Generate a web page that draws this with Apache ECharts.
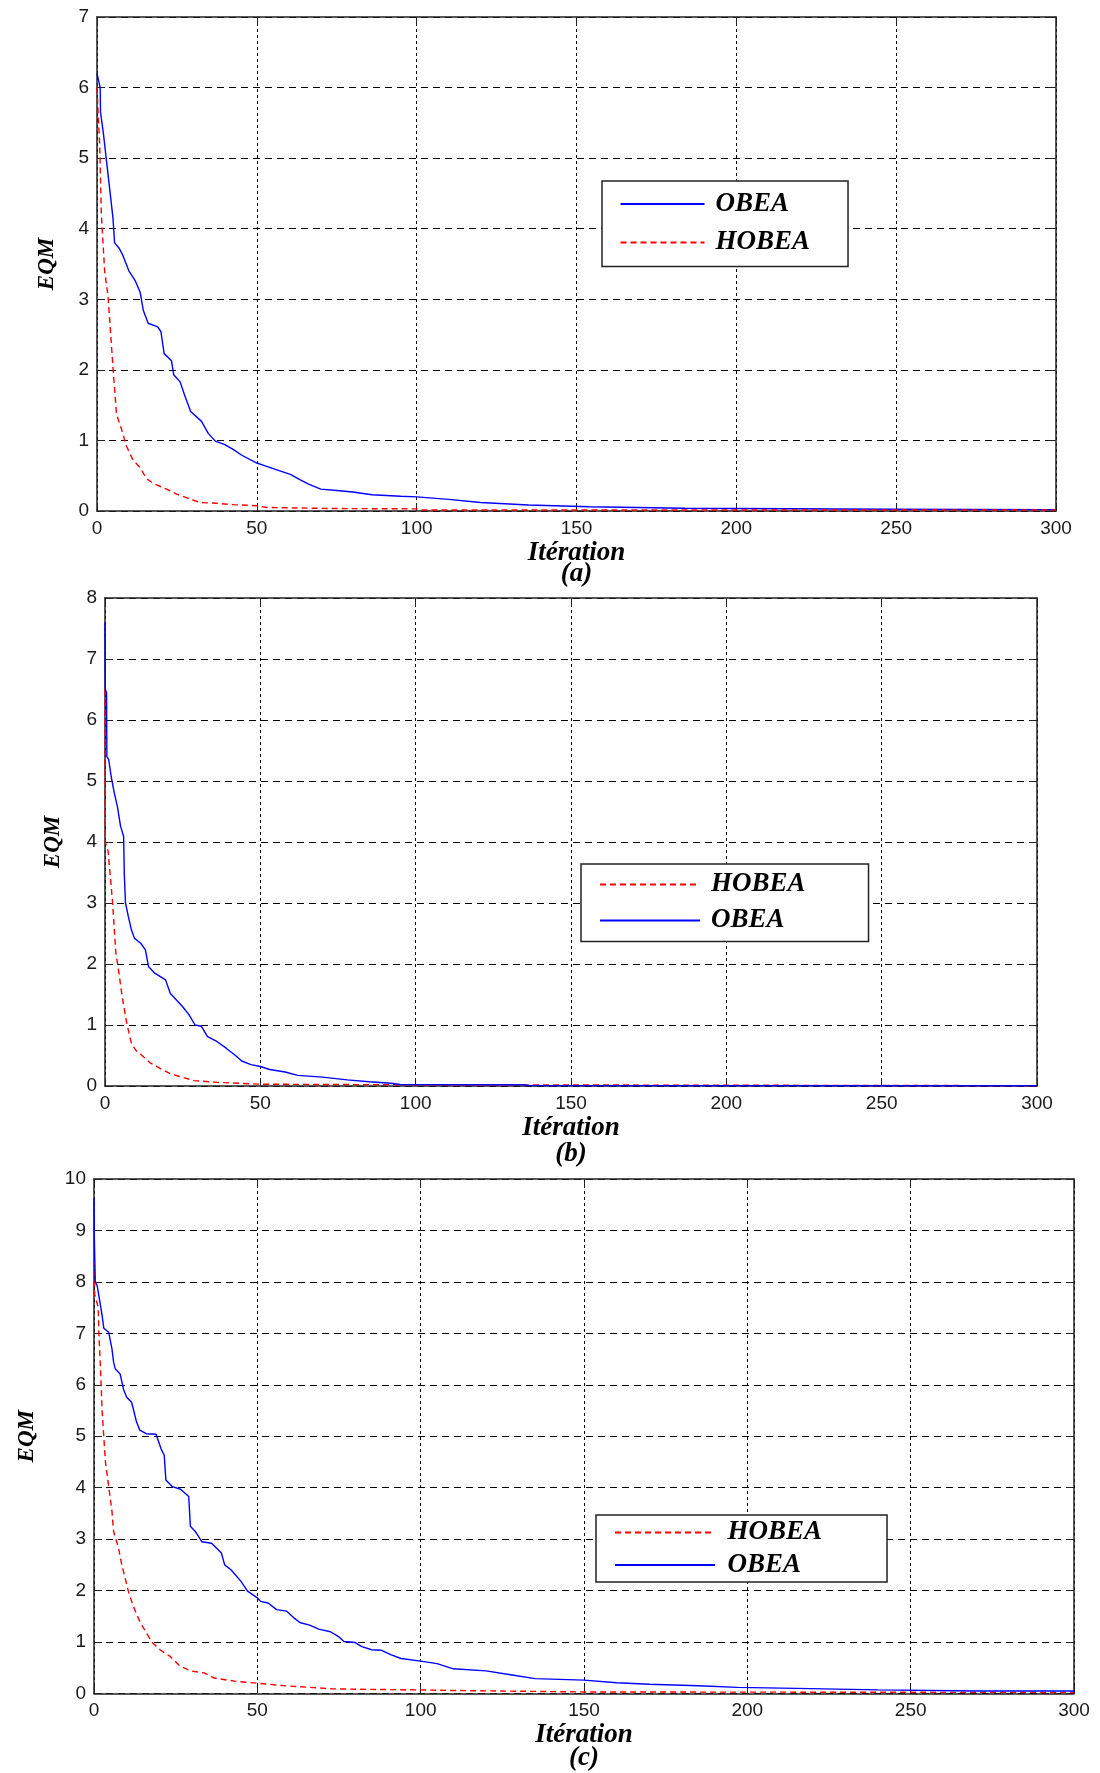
<!DOCTYPE html>
<html>
<head>
<meta charset="utf-8">
<script src="https://cdn.jsdelivr.net/npm/echarts@6/dist/echarts.min.js"></script>
<style>
html,body{margin:0;padding:0;background:#fff;}
#c{width:1100px;height:1773px;}
</style>
</head>
<body>
<div id="c"></div>
<script>
// ---------- data ----------
const xTicks = [0, 50, 100, 150, 200, 250, 300];
const panelLabels = ['(a)', '(b)', '(c)'];
const yMaxes = [7, 8, 10];

// Panel (a)
const obeaA_x = [0, 1, 1.1, 2, 3, 4, 5, 5.5, 7, 8, 10, 12, 13.5, 14.5, 16, 19, 20, 21, 23.3, 24, 26, 27.5, 29.3, 32.7, 34.8, 37, 40, 42.7, 45.3, 50, 52.6, 55.8, 60.5, 63.6, 66.2, 70, 75, 80, 86, 95, 100, 110, 120, 135, 154, 184, 248, 300];
const obeaA_y = [6.2, 6.0, 5.65, 5.35, 4.95, 4.55, 4.15, 3.8, 3.72, 3.63, 3.4, 3.26, 3.1, 2.84, 2.66, 2.61, 2.54, 2.23, 2.13, 1.93, 1.83, 1.63, 1.41, 1.27, 1.1, 0.99, 0.94, 0.87, 0.79, 0.68, 0.64, 0.59, 0.52, 0.44, 0.38, 0.31, 0.29, 0.27, 0.23, 0.21, 0.2, 0.165, 0.12, 0.085, 0.06, 0.04, 0.025, 0.02];
const hobeaA_x = [0, 0.5, 0.84, 1.36, 2.4, 3.45, 4, 5, 6.1, 7.6, 9.2, 11.3, 13.4, 15.5, 17.6, 21.8, 24.9, 28, 32.2, 37.4, 42.7, 50, 53, 74, 100, 101, 300];
const hobeaA_y = [6.0, 5.5, 5.2, 4.2, 3.4, 3.04, 2.69, 2.03, 1.37, 1.17, 0.92, 0.72, 0.62, 0.46, 0.39, 0.31, 0.24, 0.19, 0.12, 0.11, 0.09, 0.075, 0.05, 0.035, 0.03, 0.015, 0.015];

// Panel (b)
const obeaB_x = [0, 0.1, 0.5, 0.6, 1.2, 2, 3, 4, 5, 6, 6.2, 6.6, 7.5, 8.5, 9.5, 11.5, 13, 14, 16, 19.5, 21, 23, 25, 27, 29, 31, 33, 36, 39, 42, 44, 47, 50, 53, 58, 62, 70, 78, 85, 92, 95, 135, 136, 300];
const obeaB_y = [7.6, 6.5, 6.45, 5.4, 5.35, 5.07, 4.8, 4.58, 4.26, 4.09, 3.49, 3.0, 2.78, 2.56, 2.42, 2.34, 2.23, 1.96, 1.85, 1.74, 1.52, 1.41, 1.3, 1.17, 1.0, 0.98, 0.81, 0.73, 0.62, 0.5, 0.41, 0.35, 0.32, 0.27, 0.23, 0.175, 0.146, 0.1, 0.07, 0.045, 0.025, 0.02, 0.008, 0.005];
const hobeaB_x = [0, 0.1, 0.5, 1, 2, 2.5, 3, 3.5, 4.5, 5.5, 7, 8.5, 10, 11.3, 14.5, 17.7, 21, 24.8, 28.6, 36, 50, 70, 100, 135, 300];
const hobeaB_y = [6.5, 4.0, 4.0, 3.85, 3.27, 2.97, 2.56, 2.18, 1.85, 1.47, 1.03, 0.7, 0.58, 0.53, 0.38, 0.29, 0.2, 0.146, 0.088, 0.06, 0.03, 0.025, 0.02, 0.018, 0.005];

// Panel (c)
const obeaC_x = [0, 0.1, 0.3, 0.4, 1, 1.5, 2.5, 3, 4.5, 5.5, 6, 6.5, 8, 9, 10, 11.5, 12, 13, 14, 16, 19, 20.5, 21.5, 22, 24, 26.5, 29, 29.5, 31, 33, 36, 39, 40, 42, 45, 47, 50, 51, 53.3, 55.9, 59, 61, 63, 66, 68.8, 72.4, 75, 76.5, 80, 82, 85, 88, 91, 94, 100, 105, 110, 120, 128, 135, 150, 160, 170, 185, 197, 215, 240, 270, 300];
const obeaC_y = [9.63, 8.86, 8.86, 8.0, 7.92, 7.73, 7.34, 7.1, 7.02, 6.7, 6.44, 6.31, 6.21, 5.92, 5.76, 5.66, 5.54, 5.28, 5.12, 5.05, 5.04, 4.76, 4.63, 4.15, 4.02, 3.97, 3.83, 3.25, 3.15, 2.95, 2.92, 2.73, 2.5, 2.4, 2.18, 1.99, 1.86, 1.79, 1.76, 1.63, 1.6, 1.48, 1.38, 1.33, 1.25, 1.2, 1.1, 1.01, 0.99, 0.91, 0.85, 0.84, 0.75, 0.68, 0.63, 0.58, 0.48, 0.44, 0.36, 0.29, 0.26, 0.21, 0.18, 0.15, 0.12, 0.1, 0.07, 0.05, 0.05];
const hobeaC_x = [0, 0.2, 1.3, 1.5, 2, 2.5, 3, 3.5, 4.5, 5.5, 6, 7.5, 8.5, 9.5, 10.5, 12, 14, 15, 17.7, 20.2, 23.3, 26.4, 29.5, 33.7, 36.8, 43, 50, 58.5, 73, 84, 100, 108, 150, 300];
const hobeaC_y = [8.8, 7.76, 7.5, 6.98, 6.31, 5.47, 4.99, 4.5, 4.02, 3.54, 3.15, 2.83, 2.5, 2.25, 1.99, 1.7, 1.4, 1.29, 1.0, 0.85, 0.72, 0.53, 0.44, 0.4, 0.3, 0.24, 0.2, 0.15, 0.09, 0.08, 0.07, 0.06, 0.03, 0.02];

// ---------- layout / style ----------
const grids = [
  {left: 97, top: 17, width: 959, height: 494},
  {left: 105, top: 598, width: 932, height: 488},
  {left: 94, top: 1179, width: 980, height: 516}
];
const xNameGap = [31.5, 29, 30.5];
const xNameLH = [21, 26, 23];
const yNameGap = [38.5, 40.5, 55.5];

const AX = '#222';
const TICKFONT = {fontFamily: 'Liberation Sans, Arial, sans-serif', fontSize: 19, color: '#1a1a1a'};
const SERIF = {fontFamily: 'Liberation Serif, Times New Roman, serif', fontStyle: 'italic', fontWeight: 'bold', color: '#000'};

function zip(xs, ys) { return xs.map((x, i) => [x, ys[i]]); }

const xAxis = [], yAxis = [];
grids.forEach((g, gi) => {
  xAxis.push({
    type: 'value', gridIndex: gi, position: 'bottom', min: 0, max: 300, interval: 50,
    axisLine: {show: true, onZero: false, lineStyle: {color: AX, width: 1.5}},
    axisTick: {show: true, inside: true, length: 8, lineStyle: {color: AX, width: 1}},
    axisLabel: Object.assign({margin: 8, formatter: v => (xTicks.indexOf(v) >= 0 ? String(v) : '')}, TICKFONT),
    splitLine: {show: true, lineStyle: {color: '#000', width: 1, type: [3, 3]}},
    name: 'Itération\n' + panelLabels[gi], nameLocation: 'middle', nameGap: xNameGap[gi],
    nameTextStyle: Object.assign({fontSize: 27, lineHeight: xNameLH[gi], align: 'center'}, SERIF)
  });
  xAxis.push({
    type: 'value', gridIndex: gi, position: 'top', min: 0, max: 300, interval: 50,
    axisLine: {show: true, onZero: false, lineStyle: {color: AX, width: 1.5}},
    axisTick: {show: true, inside: true, length: 8, lineStyle: {color: AX, width: 1}},
    axisLabel: {show: false}, splitLine: {show: false}
  });
  yAxis.push({
    type: 'value', gridIndex: gi, position: 'left', min: 0, max: yMaxes[gi], interval: 1,
    axisLine: {show: true, onZero: false, lineStyle: {color: AX, width: 1.5}},
    axisTick: {show: true, inside: true, length: 8, lineStyle: {color: AX, width: 1}},
    axisLabel: Object.assign({margin: 8}, TICKFONT),
    splitLine: {show: true, lineStyle: {color: '#000', width: 1, type: [7, 5]}},
    name: 'EQM', nameLocation: 'middle', nameRotate: 90, nameGap: yNameGap[gi],
    nameTextStyle: Object.assign({fontSize: 23}, SERIF)
  });
  yAxis.push({
    type: 'value', gridIndex: gi, position: 'right', min: 0, max: yMaxes[gi], interval: 1,
    axisLine: {show: true, onZero: false, lineStyle: {color: AX, width: 1.5}},
    axisTick: {show: true, inside: true, length: 8, lineStyle: {color: AX, width: 1}},
    axisLabel: {show: false}, splitLine: {show: false}
  });
});

function obea(gi, data) {
  return {name: 'OBEA', type: 'line', xAxisIndex: gi * 2, yAxisIndex: gi * 2, data: data,
    symbol: 'none', showSymbol: false, clip: true,
    lineStyle: {color: '#0000ff', width: 1.4, type: 'solid'}, itemStyle: {color: '#0000ff'}};
}
function hobea(gi, data) {
  return {name: 'HOBEA', type: 'line', xAxisIndex: gi * 2, yAxisIndex: gi * 2, data: data,
    symbol: 'none', showSymbol: false, clip: true,
    lineStyle: {color: '#ff0000', width: 1.4, type: [6, 4]}, itemStyle: {color: '#ff0000'}};
}

const series = [
  obea(0, zip(obeaA_x, obeaA_y)),
  hobea(0, zip(hobeaA_x, hobeaA_y)),
  hobea(1, zip(hobeaB_x, hobeaB_y)),
  obea(1, zip(obeaB_x, obeaB_y)),
  hobea(2, zip(hobeaC_x, hobeaC_y)),
  obea(2, zip(obeaC_x, obeaC_y))
];

function legend(left, top, data, itemWidth, itemGap, padding, textPad) {
  return {
    left: left, top: top, orient: 'vertical', data: data, selectedMode: false,
    itemWidth: itemWidth, itemHeight: 14, itemGap: itemGap, padding: padding,
    backgroundColor: '#fff', borderColor: AX, borderWidth: 1.5,
    itemStyle: {opacity: 0, borderWidth: 0},
    textStyle: Object.assign({fontSize: 27, lineHeight: 26, padding: [0, 0, 0, textPad]}, SERIF)
  };
}

const option = {
  animation: false,
  backgroundColor: '#fff',
  grid: grids.map(g => Object.assign({containLabel: false}, g)),
  xAxis: xAxis,
  yAxis: yAxis,
  legend: [
    legend(602, 181, ['OBEA', 'HOBEA'], 84, 11.5, [9.5, 38, 10.5, 17.5], 6),
    legend(581, 864, ['HOBEA', 'OBEA'], 100, 9, [7, 63, 7.5, 18], 6),
    legend(596, 1515, ['HOBEA', 'OBEA'], 100, 5.5, [4, 65, 3.5, 18], 7.5)
  ],
  series: series
};

const chart = echarts.init(document.getElementById('c'), null, {renderer: 'canvas'});
chart.setOption(option);
</script>
</body>
</html>
